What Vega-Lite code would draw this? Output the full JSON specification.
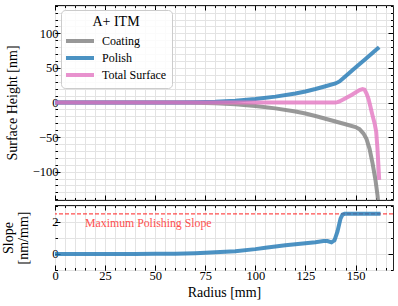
{
  "$schema": "https://vega.github.io/schema/vega-lite/v6.json",
  "padding": {"left": 1, "top": 4, "right": 4, "bottom": 2},
  "spacing": 3,
  "config": {
    "font": "Liberation Serif",
    "view": {"stroke": "#222222", "strokeWidth": 1},
    "legend": {"labelFont": "Liberation Serif", "titleFont": "Liberation Serif"},
    "axis": {
      "labelFont": "Liberation Serif", "titleFont": "Liberation Serif",
      "labelFontSize": 12.5, "titleFontSize": 14, "titleFontWeight": "normal",
      "labelColor": "black", "titleColor": "black", "tickColor": "black", "tickWidth": 1,
      "domain": false, "grid": false, "gridColor": "#e3e3e3", "gridWidth": 1,
      "labelOverlap": false, "labelFlush": false, "title": null, "minExtent": 0
    }
  },
  "resolve": {"scale": {"color": "independent"}, "legend": {"color": "independent"}},
  "vconcat": [
    {
      "width": 338, "height": 195,
      "resolve": {"axis": {"x": "independent", "y": "independent"}},
      "layer": [
        {
          "mark": {"type": "rule", "opacity": 0},
          "encoding": {
            "x": {"datum": 0, "type": "quantitative", "scale": {"domain": [0, 168.7], "nice": false, "zero": false},
              "axis": {"orient": "bottom", "values": [0,5,10,15,20,25,30,35,40,45,50,55,60,65,70,75,80,85,90,95,100,105,110,115,120,125,130,135,140,145,150,155,160,165],
                "labels": false, "grid": true, "tickSize": -2.5}},
            "x2": {"datum": 168.7},
            "y": {"datum": 0, "type": "quantitative", "scale": {"domain": [-141, 141], "nice": false, "zero": false},
              "axis": {"orient": "left", "values": [-140,-130,-120,-110,-100,-90,-80,-70,-60,-50,-40,-30,-20,-10,0,10,20,30,40,50,60,70,80,90,100,110,120,130,140],
                "labels": false, "grid": true, "tickSize": -2.5}}
          }
        },
        {
          "mark": {"type": "rule", "opacity": 0},
          "encoding": {
            "x": {"datum": 0, "type": "quantitative", "scale": {"domain": [0, 168.7], "nice": false, "zero": false},
              "axis": {"orient": "top", "values": [0,5,10,15,20,25,30,35,40,45,50,55,60,65,70,75,80,85,90,95,100,105,110,115,120,125,130,135,140,145,150,155,160,165],
                "labels": false, "tickSize": -2.5}},
            "x2": {"datum": 168.7},
            "y": {"datum": 0, "type": "quantitative", "scale": {"domain": [-141, 141], "nice": false, "zero": false},
              "axis": {"orient": "right", "values": [-140,-130,-120,-110,-100,-90,-80,-70,-60,-50,-40,-30,-20,-10,0,10,20,30,40,50,60,70,80,90,100,110,120,130,140],
                "labels": false, "tickSize": -2.5}}
          }
        },
        {
          "mark": {"type": "rule", "color": "black", "strokeWidth": 0.8},
          "encoding": {
            "x": {"datum": 0, "type": "quantitative", "scale": {"domain": [0, 168.7], "nice": false, "zero": false},
              "axis": {"orient": "top", "values": [0, 25, 50, 75, 100, 125, 150], "labels": false, "tickSize": -5}},
            "x2": {"datum": 168.7},
            "y": {"datum": 0, "type": "quantitative", "scale": {"domain": [-141, 141], "nice": false, "zero": false},
              "axis": {"orient": "right", "values": [-100, -50, 0, 50, 100], "labels": false, "tickSize": -5}}
          }
        },
        {
          "data": {"values": [
            {"r": 0, "h": 0, "series": "Coating"}, {"r": 50, "h": 0, "series": "Coating"}, {"r": 60, "h": -0.1, "series": "Coating"},
            {"r": 70, "h": -0.4, "series": "Coating"}, {"r": 80, "h": -1.1, "series": "Coating"}, {"r": 90, "h": -2.5, "series": "Coating"},
            {"r": 100, "h": -5, "series": "Coating"}, {"r": 110, "h": -8.5, "series": "Coating"}, {"r": 120, "h": -13, "series": "Coating"},
            {"r": 125, "h": -16, "series": "Coating"}, {"r": 130, "h": -19.5, "series": "Coating"}, {"r": 135, "h": -23.5, "series": "Coating"},
            {"r": 140, "h": -27.5, "series": "Coating"}, {"r": 145, "h": -31.5, "series": "Coating"}, {"r": 150, "h": -35.5, "series": "Coating"},
            {"r": 152, "h": -38.5, "series": "Coating"}, {"r": 154, "h": -45, "series": "Coating"}, {"r": 155.5, "h": -53, "series": "Coating"},
            {"r": 157, "h": -67, "series": "Coating"}, {"r": 158.5, "h": -88, "series": "Coating"}, {"r": 160, "h": -113, "series": "Coating"},
            {"r": 161, "h": -135, "series": "Coating"}, {"r": 161.8, "h": -160, "series": "Coating"},
            {"r": 0, "h": 0, "series": "Polish"}, {"r": 50, "h": 0, "series": "Polish"}, {"r": 60, "h": 0.1, "series": "Polish"},
            {"r": 70, "h": 0.4, "series": "Polish"}, {"r": 80, "h": 1.1, "series": "Polish"}, {"r": 90, "h": 2.5, "series": "Polish"},
            {"r": 100, "h": 5, "series": "Polish"}, {"r": 110, "h": 8.5, "series": "Polish"}, {"r": 120, "h": 13, "series": "Polish"},
            {"r": 125, "h": 16, "series": "Polish"}, {"r": 130, "h": 19.5, "series": "Polish"}, {"r": 135, "h": 23.5, "series": "Polish"},
            {"r": 140, "h": 27.5, "series": "Polish"}, {"r": 142, "h": 30.5, "series": "Polish"}, {"r": 144, "h": 35.5, "series": "Polish"},
            {"r": 150, "h": 50.5, "series": "Polish"}, {"r": 155, "h": 63, "series": "Polish"}, {"r": 160, "h": 75.5, "series": "Polish"},
            {"r": 161.8, "h": 80, "series": "Polish"},
            {"r": 0, "h": 0, "series": "Total Surface"}, {"r": 70, "h": 0, "series": "Total Surface"}, {"r": 140, "h": 0, "series": "Total Surface"},
            {"r": 141, "h": 0.5, "series": "Total Surface"}, {"r": 142, "h": 1.5, "series": "Total Surface"}, {"r": 145, "h": 6, "series": "Total Surface"},
            {"r": 148, "h": 11, "series": "Total Surface"}, {"r": 150, "h": 14.5, "series": "Total Surface"}, {"r": 152, "h": 18, "series": "Total Surface"},
            {"r": 153.5, "h": 19.5, "series": "Total Surface"}, {"r": 154.5, "h": 18.5, "series": "Total Surface"}, {"r": 155.5, "h": 13, "series": "Total Surface"},
            {"r": 156.5, "h": 5, "series": "Total Surface"}, {"r": 157.5, "h": -7, "series": "Total Surface"}, {"r": 158.5, "h": -19, "series": "Total Surface"},
            {"r": 159.5, "h": -30, "series": "Total Surface"}, {"r": 160.3, "h": -42, "series": "Total Surface"}, {"r": 160.9, "h": -65, "series": "Total Surface"},
            {"r": 161.4, "h": -90, "series": "Total Surface"}, {"r": 161.8, "h": -112, "series": "Total Surface"}
          ]},
          "mark": {"type": "line", "strokeWidth": 4, "opacity": 0.8, "clip": true},
          "encoding": {
            "x": {"field": "r", "type": "quantitative", "scale": {"domain": [0, 168.7], "nice": false, "zero": false},
              "axis": {"orient": "bottom", "values": [0, 25, 50, 75, 100, 125, 150], "labels": false, "tickSize": -5}},
            "y": {"field": "h", "type": "quantitative", "scale": {"domain": [-141, 141], "nice": false, "zero": false},
              "axis": {"orient": "left", "values": [-100, -50, 0, 50, 100], "tickSize": -5, "labelPadding": 2,
                "title": "Surface Height [nm]", "titlePadding": 13}},
            "color": {"field": "series", "type": "nominal",
              "scale": {"domain": ["Coating", "Polish", "Total Surface"], "range": ["#7f7f7f", "#1f77b4", "#e377c2"]},
              "legend": {"orient": "none", "legendX": 6, "legendY": 5, "title": "A+ ITM",
                "titleFontSize": 14, "titleFontWeight": "normal", "titleAnchor": "middle", "titleColor": "black",
                "titleFont": "Liberation Serif", "labelFont": "Liberation Serif",
                "labelFontSize": 12, "labelColor": "black", "labelOffset": 13,
                "symbolType": "M-2,0L2,0", "symbolSize": 196, "symbolStrokeWidth": 4, "symbolOffset": 5,
                "fillColor": "rgba(255,255,255,0.85)", "strokeColor": "#cccccc", "cornerRadius": 4,
                "padding": 5, "rowPadding": 0, "titlePadding": 3}}
          }
        }
      ]
    },
    {
      "width": 338, "height": 65,
      "resolve": {"axis": {"x": "independent", "y": "independent"}},
      "layer": [
        {
          "mark": {"type": "rule", "opacity": 0},
          "encoding": {
            "x": {"datum": 0, "type": "quantitative", "scale": {"domain": [0, 168.7], "nice": false, "zero": false},
              "axis": {"orient": "bottom", "values": [0,5,10,15,20,25,30,35,40,45,50,55,60,65,70,75,80,85,90,95,100,105,110,115,120,125,130,135,140,145,150,155,160,165],
                "labels": false, "grid": true, "tickSize": -2.5}},
            "x2": {"datum": 168.7},
            "y": {"datum": 0, "type": "quantitative", "scale": {"domain": [-1, 3.05], "nice": false, "zero": false},
              "axis": {"orient": "left", "values": [-1, 0, 1, 2, 3], "labels": false, "grid": true, "tickSize": -2.5}}
          }
        },
        {
          "mark": {"type": "rule", "opacity": 0},
          "encoding": {
            "x": {"datum": 0, "type": "quantitative", "scale": {"domain": [0, 168.7], "nice": false, "zero": false},
              "axis": {"orient": "top", "values": [0,5,10,15,20,25,30,35,40,45,50,55,60,65,70,75,80,85,90,95,100,105,110,115,120,125,130,135,140,145,150,155,160,165],
                "labels": false, "tickSize": -2.5}},
            "x2": {"datum": 168.7},
            "y": {"datum": 0, "type": "quantitative", "scale": {"domain": [-1, 3.05], "nice": false, "zero": false},
              "axis": {"orient": "right", "values": [-1, 1, 3], "labels": false, "tickSize": -2.5}}
          }
        },
        {
          "mark": {"type": "rule", "color": "black", "strokeWidth": 0.8},
          "encoding": {
            "x": {"datum": 0, "type": "quantitative", "scale": {"domain": [0, 168.7], "nice": false, "zero": false},
              "axis": {"orient": "top", "values": [0, 25, 50, 75, 100, 125, 150], "labels": false, "tickSize": -5}},
            "x2": {"datum": 168.7},
            "y": {"datum": 0, "type": "quantitative", "scale": {"domain": [-1, 3.05], "nice": false, "zero": false},
              "axis": {"orient": "right", "values": [0, 2], "labels": false, "tickSize": -5}}
          }
        },
        {
          "data": {"values": [{"s": 2.5}]},
          "mark": {"type": "rule", "color": "#ff2020", "opacity": 0.8, "strokeWidth": 1.2, "strokeDash": [4, 2]},
          "encoding": {"y": {"field": "s", "type": "quantitative", "scale": {"domain": [-1, 3.05], "nice": false, "zero": false}, "axis": null}}
        },
        {
          "data": {"values": [{"r": 15, "s": 1.95, "label": "Maximum Polishing Slope"}]},
          "mark": {"type": "text", "color": "#ff3030", "opacity": 0.85, "align": "left", "baseline": "middle", "fontSize": 11.8, "font": "Liberation Serif"},
          "encoding": {
            "x": {"field": "r", "type": "quantitative", "scale": {"domain": [0, 168.7], "nice": false, "zero": false}, "axis": null},
            "y": {"field": "s", "type": "quantitative", "scale": {"domain": [-1, 3.05], "nice": false, "zero": false}, "axis": null},
            "text": {"field": "label"}
          }
        },
        {
          "data": {"values": [
            {"r": 0, "s": 0}, {"r": 10, "s": 0}, {"r": 20, "s": -0.01}, {"r": 30, "s": 0}, {"r": 40, "s": 0}, {"r": 50, "s": 0.01},
            {"r": 60, "s": 0.02}, {"r": 70, "s": 0.05}, {"r": 80, "s": 0.1}, {"r": 90, "s": 0.17}, {"r": 100, "s": 0.3},
            {"r": 105, "s": 0.38}, {"r": 110, "s": 0.46}, {"r": 115, "s": 0.54}, {"r": 120, "s": 0.6}, {"r": 125, "s": 0.66},
            {"r": 130, "s": 0.73}, {"r": 134, "s": 0.8}, {"r": 136, "s": 0.8}, {"r": 138, "s": 0.72}, {"r": 139.5, "s": 0.85},
            {"r": 141, "s": 1.4}, {"r": 142.5, "s": 2.2}, {"r": 143.5, "s": 2.45}, {"r": 144.5, "s": 2.5}, {"r": 150, "s": 2.5},
            {"r": 162.5, "s": 2.5}
          ]},
          "mark": {"type": "line", "strokeWidth": 4, "opacity": 0.8, "color": "#1f77b4", "clip": true},
          "encoding": {
            "x": {"field": "r", "type": "quantitative", "scale": {"domain": [0, 168.7], "nice": false, "zero": false},
              "axis": {"orient": "bottom", "values": [0, 25, 50, 75, 100, 125, 150], "tickSize": -5, "labelPadding": 4,
                "title": "Radius [mm]", "titlePadding": 4}},
            "y": {"field": "s", "type": "quantitative", "scale": {"domain": [-1, 3.05], "nice": false, "zero": false},
              "axis": {"orient": "left", "values": [0, 2], "tickSize": -5, "labelPadding": 2,
                "title": ["Slope", "[nm/mm]"], "titleLineHeight": 15, "titlePadding": 21}}
          }
        }
      ]
    }
  ]
}
